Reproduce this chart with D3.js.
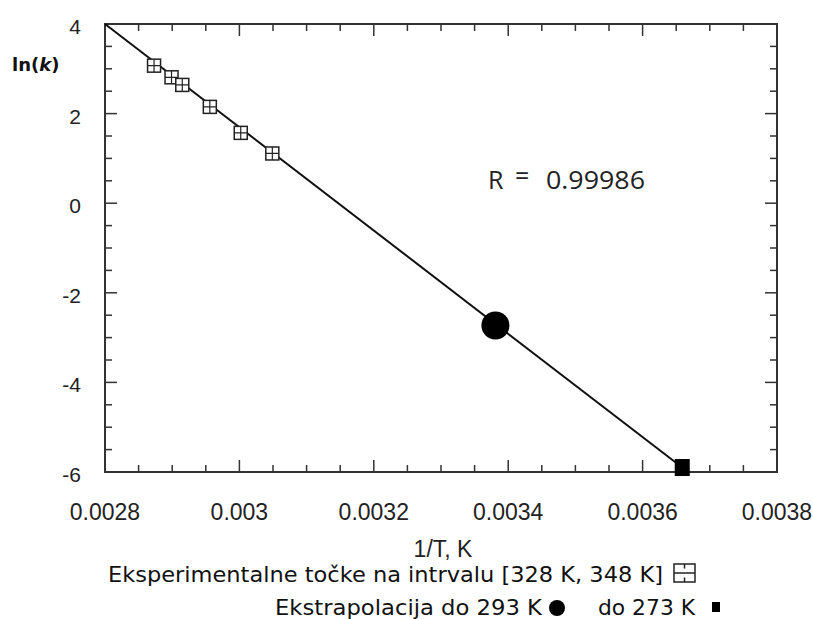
<!DOCTYPE html>
<html>
<head>
<meta charset="utf-8">
<script src="https://cdn.jsdelivr.net/npm/d3@7"></script>
<style>
  body { margin: 0; background: #fff; }
</style>
</head>
<body>
<script>
// experimental points, 1/T and ln(k)
var expX = [0.002873, 0.002899, 0.002915, 0.002956, 0.003002, 0.003049];
var expY = [3.07, 2.81, 2.64, 2.15, 1.57, 1.11];

// extrapolations
var circX = [0.003381], circY = [-2.73];
var sqX = [0.003659], sqY = [-5.9];

// regression line ends
var lineX = [0.0028, 0.003659];
var lineY = [4.0, -5.9];

var xTicks = [0.0028, 0.003, 0.0032, 0.0034, 0.0036, 0.0038];
var xTickLabels = ["0.0028", "0.003", "0.0032", "0.0034", "0.0036", "0.0038"];
var yTicks = [4, 2, 0, -2, -4, -6];
var yTickLabels = ["4", "2", "0", "-2", "-4", "-6"];

var W = 813, H = 619;
var pL = 105, pR = 777, pT = 24, pB = 472;

var svg = d3.select("body").append("svg")
    .attr("width", W).attr("height", H);

var x = d3.scaleLinear().domain([0.0028, 0.0038]).range([pL, pR]);
var y = d3.scaleLinear().domain([-6, 4]).range([pB, pT]);

// minor ticks every 0.00005 / 0.5
var xMinor = d3.range(0, 21).map(function(i) { return 0.0028 + i * 0.00005; });
var yMinor = d3.range(0, 21).map(function(i) { return -6 + i * 0.5; });

var axisCol = "#333";

function tickLen(isMajor) { return isMajor ? 12 : 7; }

var tg = svg.append("g").attr("stroke", axisCol).attr("stroke-width", 1.5);
xMinor.forEach(function(v, i) {
  var L = tickLen(i % 4 === 0);
  tg.append("line").attr("x1", x(v)).attr("x2", x(v)).attr("y1", pB).attr("y2", pB - L);
  tg.append("line").attr("x1", x(v)).attr("x2", x(v)).attr("y1", pT).attr("y2", pT + L);
});
yMinor.forEach(function(v, i) {
  var L = tickLen(i % 4 === 0);
  tg.append("line").attr("y1", y(v)).attr("y2", y(v)).attr("x1", pL).attr("x2", pL + L);
  tg.append("line").attr("y1", y(v)).attr("y2", y(v)).attr("x1", pR).attr("x2", pR - L);
});

// frame
svg.append("rect")
  .attr("x", pL).attr("y", pT)
  .attr("width", pR - pL).attr("height", pB - pT)
  .attr("fill", "none").attr("stroke", axisCol).attr("stroke-width", 2);

// tick labels
svg.selectAll("text.xt")
  .data(xTicks)
  .enter().append("text")
  .attr("class", "xt")
  .attr("x", function(d) { return x(d); })
  .attr("y", 520)
  .attr("text-anchor", "middle")
  .attr("font-family", "Liberation Sans, Arial, sans-serif")
  .attr("font-size", "23px")
  .attr("fill", "#222")
  .text(function(d, i) { return xTickLabels[i]; });

svg.selectAll("text.yt")
  .data(yTicks)
  .enter().append("text")
  .attr("class", "yt")
  .attr("x", 81)
  .attr("y", function(d) { return y(d) + 10; })
  .attr("text-anchor", "end")
  .attr("font-family", "Liberation Sans, Arial, sans-serif")
  .attr("font-size", "21px")
  .attr("fill", "#222")
  .text(function(d, i) { return yTickLabels[i]; });

// axis titles
var yl = svg.append("text")
  .attr("x", 12).attr("y", 71)
  .attr("font-family", "DejaVu Sans, sans-serif")
  .attr("font-size", "18px")
  .attr("font-weight", "bold")
  .attr("fill", "#111");
yl.append("tspan").text("ln(");
yl.append("tspan").attr("font-style", "italic").text("k");
yl.append("tspan").text(")");

svg.append("text")
  .attr("x", (pL + pR) / 2 + 2).attr("y", 557)
  .attr("text-anchor", "middle")
  .attr("font-family", "Liberation Sans, Arial, sans-serif")
  .attr("font-size", "23px")
  .attr("fill", "#222")
  .text("1/T, K");

// regression line
var line = d3.line()
  .x(function(d) { return x(d[0]); })
  .y(function(d) { return y(d[1]); });

svg.append("path")
  .datum(d3.zip(lineX, lineY))
  .attr("d", line)
  .attr("fill", "none")
  .attr("stroke", "#111")
  .attr("stroke-width", 2);

// experimental markers (box with cross)
var s = 6.5;
var eg = svg.selectAll("g.exp")
  .data(d3.zip(expX, expY))
  .enter().append("g")
  .attr("class", "exp")
  .attr("transform", function(d) { return "translate(" + x(d[0]) + "," + y(d[1]) + ")"; });
eg.append("rect")
  .attr("x", -s).attr("y", -s).attr("width", 2 * s).attr("height", 2 * s)
  .attr("fill", "#fff").attr("stroke", "#222").attr("stroke-width", 1.5);
eg.append("path")
  .attr("d", "M" + (-s) + ",0H" + s + "M0," + (-s) + "V" + s)
  .attr("stroke", "#222").attr("stroke-width", 1.2);

// extrapolated points
svg.selectAll("circle.ex")
  .data(d3.zip(circX, circY))
  .enter().append("circle")
  .attr("class", "ex")
  .attr("cx", function(d) { return x(d[0]); })
  .attr("cy", function(d) { return y(d[1]); })
  .attr("r", 14)
  .attr("fill", "#000");

svg.selectAll("rect.ex")
  .data(d3.zip(sqX, sqY))
  .enter().append("rect")
  .attr("class", "ex")
  .attr("x", function(d) { return x(d[0]) - 7.5; })
  .attr("y", function(d) { return y(d[1]) - 8.5; })
  .attr("width", 15).attr("height", 17)
  .attr("fill", "#000");

// R annotation
var rt = svg.append("g")
  .attr("font-family", "Open Sans, sans-serif")
  .attr("font-size", "25px")
  .attr("fill", "#222");
rt.append("text").attr("x", 488).attr("y", 189).text("R");
rt.append("text").attr("x", 515).attr("y", 185).text("=");
rt.append("text").attr("x", 546).attr("y", 189)
  .attr("textLength", 99).attr("lengthAdjust", "spacingAndGlyphs")
  .text("0.99986");

// legend
var lg = svg.append("g")
  .attr("font-family", "DejaVu Sans, sans-serif")
  .attr("font-size", "21px")
  .attr("fill", "#111");
lg.append("text").attr("x", 108).attr("y", 582)
  .attr("textLength", 555).attr("lengthAdjust", "spacingAndGlyphs")
  .text("Eksperimentalne točke na intrvalu [328 K, 348 K]");
lg.append("text").attr("x", 275).attr("y", 615)
  .attr("textLength", 267).attr("lengthAdjust", "spacingAndGlyphs")
  .text("Ekstrapolacija do 293 K");
lg.append("text").attr("x", 598).attr("y", 615)
  .attr("textLength", 97).attr("lengthAdjust", "spacingAndGlyphs")
  .text("do 273 K");

// legend icons
var ic = lg.append("g").attr("stroke", "#222").attr("stroke-width", 1.5).attr("fill", "none");
ic.append("rect").attr("x", 674).attr("y", 564).attr("width", 21).attr("height", 18);
ic.append("path").attr("d", "M674,573H695M684.5,564V568.5M684.5,577.5V582");
lg.append("circle").attr("cx", 557).attr("cy", 608).attr("r", 8).attr("fill", "#000");
lg.append("rect").attr("x", 712).attr("y", 602).attr("width", 8).attr("height", 10).attr("fill", "#000");
</script>
</body>
</html>
